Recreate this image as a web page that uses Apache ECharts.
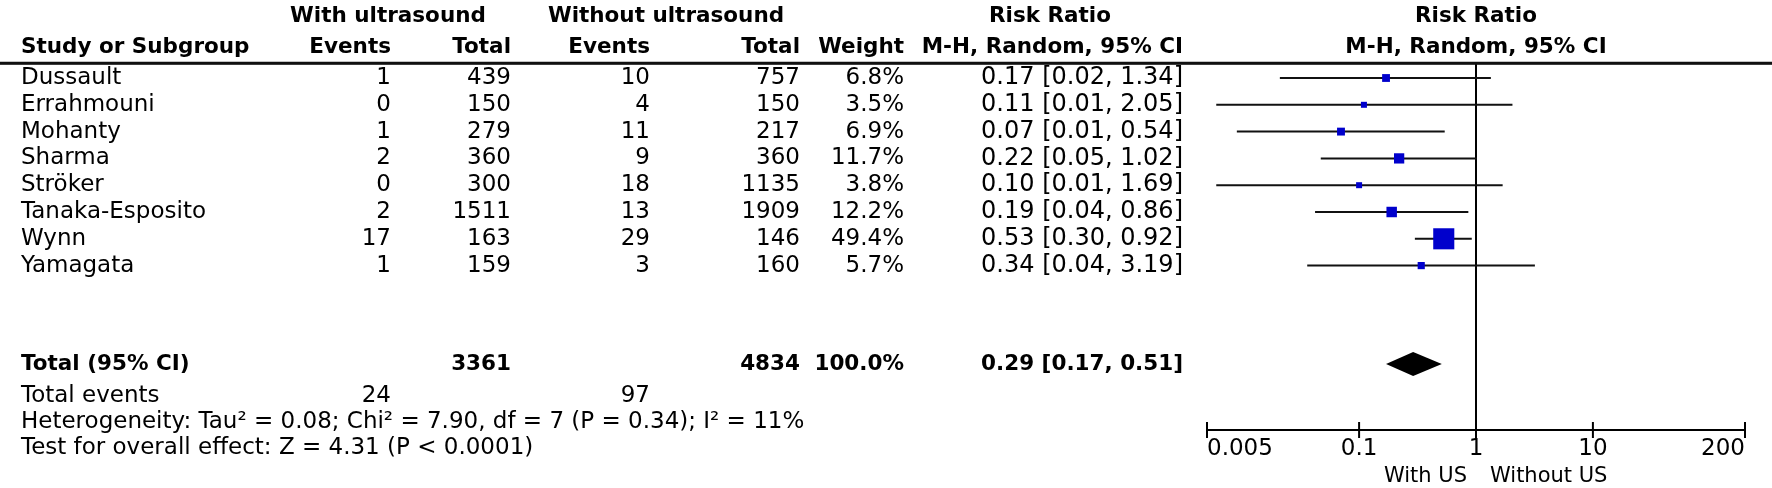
<!DOCTYPE html>
<html><head><meta charset="utf-8">
<script src="https://cdn.jsdelivr.net/npm/echarts@6/dist/echarts.min.js"></script>
<style>html,body{margin:0;padding:0;background:#fff}#c{width:1772px;height:488px}</style>
</head><body><div id="c"></div>
<script>
// ---------------- DATA ----------------
const studies = ['Dussault','Errahmouni','Mohanty','Sharma','Ströker','Tanaka-Esposito','Wynn','Yamagata'];
const eventsWith = [1,0,1,2,0,2,17,1];
const totalWith = [439,150,279,360,300,1511,163,159];
const eventsWithout = [10,4,11,9,18,13,29,3];
const totalWithout = [757,150,217,360,1135,1909,146,160];
const weights = [6.8,3.5,6.9,11.7,3.8,12.2,49.4,5.7];
const rrEst = [0.17,0.11,0.07,0.22,0.10,0.19,0.53,0.34];
const rrLow = [0.021,0.006,0.009,0.047,0.006,0.042,0.30,0.036];
const rrHigh = [1.34,2.05,0.54,1.02,1.69,0.86,0.92,3.19];
const rrText = ['0.17 [0.02, 1.34]','0.11 [0.01, 2.05]','0.07 [0.01, 0.54]','0.22 [0.05, 1.02]','0.10 [0.01, 1.69]','0.19 [0.04, 0.86]','0.53 [0.30, 0.92]','0.34 [0.04, 3.19]'];
const pooledEst = [0.29];
const pooledLow = [0.17];
const pooledHigh = [0.51];
const pooledText = ['0.29 [0.17, 0.51]'];
const totalsN = [3361, 4834];
const totalWeightText = ['100.0%'];
const totalEvents = [24, 97];
const heterogeneityText = ['Heterogeneity: Tau² = 0.08; Chi² = 7.90, df = 7 (P = 0.34); I² = 11%'];
const overallText = ['Test for overall effect: Z = 4.31 (P < 0.0001)'];
const tickValues = [0.005, 0.1, 1, 10, 200];
const tickLabels = ['0.005','0.1','1','10','200'];
const favourLabels = ['With US', 'Without US'];

// ---------------- LAYOUT ----------------
const W = 1772, H = 488;
const ROW0_Y = 78, ROW_H = 26.8;
const rowOf = y => (y - ROW0_Y) / ROW_H;
const L = { header1: 16, header2: 47, rule: 63, total: 364, totalEvents: 396, het: 422, test: 448, axis: 430 };
const COL = { name: 21, evW: 391, totW: 511, evWo: 650, totWo: 800, weight: 904, rr: 1183, grpW: 388, grpWo: 666, rrHead: 1050, plotHead: 1476 };
const PLOT = { left: 1207, right: 1745 };
const FONT = 'DejaVu Sans';
const REG = 23, NUM = 24, BOLD = 21.5, FAV = 21, INK = '#000';
const BOX_K = 3.0, BOX_MIN = 6, DIAMOND_H = 12, TICK = 8, TICK_LABEL_GAP = 19, FAV_GAP = 47;

// ---------------- TABLE TEXT ----------------
const tableItems = [];
const tableStyles = [];
const put = (x, r, text, align, bold, size) => {
  tableItems.push([x, r]);
  tableStyles.push({ text: String(text), align: align, bold: !!bold, size: size || (bold ? BOLD : REG) });
};
const h1 = rowOf(L.header1), h2 = rowOf(L.header2);
put(COL.grpW, h1, 'With ultrasound', 'center', true);
put(COL.grpWo, h1, 'Without ultrasound', 'center', true);
put(COL.rrHead, h1, 'Risk Ratio', 'center', true);
put(COL.plotHead, h1, 'Risk Ratio', 'center', true);
put(COL.name, h2, 'Study or Subgroup', 'left', true);
put(COL.evW, h2, 'Events', 'right', true);
put(COL.totW, h2, 'Total', 'right', true);
put(COL.evWo, h2, 'Events', 'right', true);
put(COL.totWo, h2, 'Total', 'right', true);
put(COL.weight, h2, 'Weight', 'right', true);
put(COL.rr, h2, 'M-H, Random, 95% CI', 'right', true);
put(COL.plotHead, h2, 'M-H, Random, 95% CI', 'center', true);
studies.forEach((s, i) => {
  put(COL.name, i, s, 'left');
  put(COL.evW, i, eventsWith[i], 'right');
  put(COL.totW, i, totalWith[i], 'right');
  put(COL.evWo, i, eventsWithout[i], 'right');
  put(COL.totWo, i, totalWithout[i], 'right');
  put(COL.weight, i, weights[i].toFixed(1) + '%', 'right');
  put(COL.rr, i, rrText[i], 'right', false, NUM);
});
const rt = rowOf(L.total);
put(COL.name, rt, 'Total (95% CI)', 'left', true);
put(COL.totW, rt, totalsN[0], 'right', true);
put(COL.totWo, rt, totalsN[1], 'right', true);
put(COL.weight, rt, totalWeightText[0], 'right', true);
put(COL.rr, rt, pooledText[0], 'right', true);
const re = rowOf(L.totalEvents);
put(COL.name, re, 'Total events', 'left');
put(COL.evW, re, totalEvents[0], 'right');
put(COL.evWo, re, totalEvents[1], 'right');
put(COL.name, rowOf(L.het), heterogeneityText[0], 'left');
put(COL.name, rowOf(L.test), overallText[0], 'left');

const Y_TOP = rowOf(L.rule), Y_BOTTOM = rowOf(L.axis);

const chart = echarts.init(document.getElementById('c'), null, { renderer: 'canvas', width: W, height: H });
chart.setOption({
  animation: false,
  backgroundColor: '#fff',
  grid: [
    { left: 0, top: 0, width: W, height: H, containLabel: false },
    { left: PLOT.left, top: L.rule, width: PLOT.right - PLOT.left, height: L.axis - L.rule, containLabel: false }
  ],
  xAxis: [
    { gridIndex: 0, type: 'value', min: 0, max: W, show: false },
    { gridIndex: 1, type: 'log', logBase: 10, min: tickValues[0], max: tickValues[tickValues.length - 1],
      axisLine: { show: true, onZero: false, lineStyle: { color: INK, width: 2 } },
      axisTick: { show: false }, axisLabel: { show: false }, splitLine: { show: false } }
  ],
  yAxis: [
    { gridIndex: 0, type: 'value', inverse: true, min: rowOf(0), max: rowOf(H), show: false },
    { gridIndex: 1, type: 'value', inverse: true, min: Y_TOP, max: Y_BOTTOM, show: false }
  ],
  series: [
    { // table text
      type: 'custom', xAxisIndex: 0, yAxisIndex: 0, silent: true, clip: false,
      data: tableItems, encode: { x: 0, y: 1 },
      renderItem: (params, api) => {
        const st = tableStyles[params.dataIndex];
        const p = api.coord([api.value(0), api.value(1)]);
        return { type: 'text', x: p[0], y: p[1], style: { text: st.text, fill: INK, fontSize: st.size, fontFamily: FONT,
          fontWeight: st.bold ? 'bold' : 'normal', align: st.align, verticalAlign: 'middle' } };
      },
      markLine: { silent: true, symbol: 'none', label: { show: false },
        lineStyle: { color: '#111', width: 2.5, type: 'solid' },
        data: [{ yAxis: rowOf(L.rule) }] }
    },
    { // header rule (fallback line across the full width)
      type: 'custom', xAxisIndex: 0, yAxisIndex: 0, silent: true,
      data: [[0, rowOf(L.rule), W]], encode: { x: [0, 2], y: 1 },
      renderItem: (params, api) => {
        const a = api.coord([api.value(0), api.value(1)]);
        const b = api.coord([api.value(2), api.value(1)]);
        return { type: 'line', shape: { x1: a[0], y1: a[1], x2: b[0], y2: b[1] }, style: { stroke: '#111', lineWidth: 2.5 } };
      }
    },
    { // reference line at RR = 1
      type: 'custom', xAxisIndex: 1, yAxisIndex: 1, silent: true,
      data: [[1, Y_TOP, Y_BOTTOM]], encode: { x: 0, y: [1, 2] },
      renderItem: (params, api) => {
        const a = api.coord([api.value(0), api.value(1)]);
        const b = api.coord([api.value(0), api.value(2)]);
        return { type: 'line', shape: { x1: a[0], y1: a[1], x2: b[0], y2: b[1] }, style: { stroke: INK, lineWidth: 2 } };
      }
    },
    { // study CIs and boxes
      type: 'custom', xAxisIndex: 1, yAxisIndex: 1, silent: true,
      data: studies.map((s, i) => [rrEst[i], rrLow[i], rrHigh[i], i, weights[i]]),
      encode: { x: [0, 1, 2], y: 3 },
      renderItem: (params, api) => {
        const r = api.value(3);
        const a = api.coord([api.value(1), r]);
        const b = api.coord([api.value(2), r]);
        const c = api.coord([api.value(0), r]);
        const s = Math.max(BOX_MIN, BOX_K * Math.sqrt(api.value(4)));
        return { type: 'group', children: [
          { type: 'line', shape: { x1: a[0], y1: a[1], x2: b[0], y2: b[1] }, style: { stroke: '#111', lineWidth: 2 } },
          { type: 'rect', shape: { x: c[0] - s / 2, y: c[1] - s / 2, width: s, height: s }, style: { fill: '#0000CC' } }
        ] };
      }
    },
    { // pooled diamond
      type: 'custom', xAxisIndex: 1, yAxisIndex: 1, silent: true,
      data: [[pooledEst[0], pooledLow[0], pooledHigh[0], rowOf(L.total)]],
      encode: { x: [0, 1, 2], y: 3 },
      renderItem: (params, api) => {
        const r = api.value(3);
        const a = api.coord([api.value(1), r]);
        const b = api.coord([api.value(2), r]);
        const c = api.coord([api.value(0), r]);
        return { type: 'polygon', shape: { points: [[a[0], a[1]], [c[0], c[1] - DIAMOND_H], [b[0], b[1]], [c[0], c[1] + DIAMOND_H]] }, style: { fill: '#000' } };
      }
    },
    { // axis ticks and labels
      type: 'custom', xAxisIndex: 1, yAxisIndex: 1, silent: true, clip: false,
      data: tickValues.map((v, i) => [v, Y_BOTTOM, i]),
      encode: { x: 0, y: 1 },
      renderItem: (params, api) => {
        const i = params.dataIndex, n = tickValues.length;
        const p = api.coord([api.value(0), api.value(1)]);
        return { type: 'group', children: [
          { type: 'line', shape: { x1: p[0], y1: p[1] - TICK, x2: p[0], y2: p[1] + TICK }, style: { stroke: INK, lineWidth: 2 } },
          { type: 'text', x: p[0], y: p[1] + TICK_LABEL_GAP, style: { text: tickLabels[i], fill: INK, fontSize: REG, fontFamily: FONT,
            align: i === 0 ? 'left' : (i === n - 1 ? 'right' : 'center'), verticalAlign: 'middle' } }
        ] };
      }
    },
    { // favour labels
      type: 'custom', xAxisIndex: 1, yAxisIndex: 1, silent: true, clip: false,
      data: [[1, Y_BOTTOM]], encode: { x: 0, y: 1 },
      renderItem: (params, api) => {
        const p = api.coord([api.value(0), api.value(1)]);
        return { type: 'group', children: [
          { type: 'text', x: p[0] - 9, y: p[1] + FAV_GAP, style: { text: favourLabels[0], fill: INK, fontSize: FAV, fontFamily: FONT, align: 'right', verticalAlign: 'middle' } },
          { type: 'text', x: p[0] + 14, y: p[1] + FAV_GAP, style: { text: favourLabels[1], fill: INK, fontSize: FAV, fontFamily: FONT, align: 'left', verticalAlign: 'middle' } }
        ] };
      }
    }
  ]
});
</script>
</body></html>
